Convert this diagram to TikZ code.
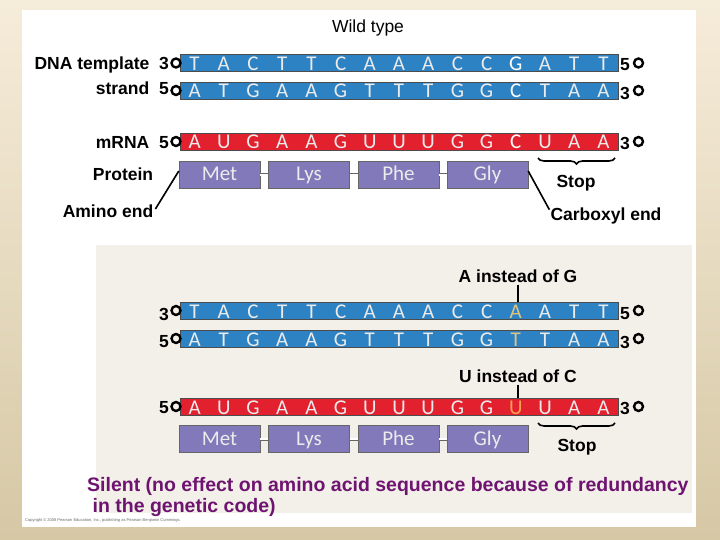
\documentclass[tikz,border=0pt]{standalone}
\usepackage{fontspec}
\setmainfont{Liberation Sans}
\newfontfamily\calfnt{Carlito}
\usetikzlibrary{decorations.pathreplacing}
\definecolor{dnab}{HTML}{2D82C4}
\definecolor{rnar}{HTML}{E3202E}
\definecolor{prot}{HTML}{8279BA}
\definecolor{pur}{HTML}{6E1470}
\definecolor{tanb}{HTML}{DEC482}
\definecolor{orgu}{HTML}{FAA050}
\definecolor{bgtop}{HTML}{F6ECDA}
\definecolor{bgbot}{HTML}{D6C8A5}
\definecolor{greyp}{HTML}{F3F0EA}
\tikzset{
 strand/.style={draw=black!70,line width=0.5pt,minimum width=438pt,minimum height=17pt,inner sep=0pt},
 base/.style={text=white!92!black,font=\calfnt\fontsize{21}{21}\selectfont,inner sep=0pt,anchor=base},
 lab/.style={font=\bfseries\fontsize{17.5}{19}\selectfont,inner sep=0pt},
 prime/.style={circle,draw=black,line width=2.4pt,minimum size=9pt,inner sep=0pt},
 aa/.style={fill=prot,draw=black!60,minimum width=81pt,minimum height=27pt,inner sep=0pt,text height=13pt,text depth=1pt,text=white!92!black,font=\calfnt\fontsize{21}{21}\selectfont},
 link/.style={double=white,draw=black!60,double distance=2pt,line width=0.5pt},
 lead/.style={line width=1.6pt},
 brc/.style={decorate,decoration={brace,amplitude=6pt,mirror},line width=1.6pt}
}
\newcommand{\seq}[5]{% name, y, color, letters, special-colour
 \node[strand,fill=#3,anchor=west] (#1) at (180,#2) {};
 \foreach \c [count=\i from 0] in {#4} {
   \pgfmathsetmacro\xx{180+29.2*(\i+0.5)}
   \ifnum\i=11 \node[base,text=#5] (#1l\i) at (\xx,#2+7.5) {\c};
   \else \node[base] (#1l\i) at (\xx,#2+7.5) {\c}; \fi
 }
}
\begin{document}
\begin{tikzpicture}[x=1pt,y=-1pt]
\shade[top color=bgtop,bottom color=bgbot] (0,0) rectangle (720,540);
\fill[white] (22,10) rectangle (696,527);
\fill[greyp] (96,245) rectangle (692,513);
\node[lab,font=\fontsize{17.5}{19}\selectfont] (wt) at (368,28) {Wild type};
% top
\seq{d1}{63}{dnab}{T,A,C,T,T,C,A,A,A,C,C,G,A,T,T}{white}
\seq{d2}{90.5}{dnab}{A,T,G,A,A,G,T,T,T,G,G,C,T,A,A}{white}
\seq{m1}{141.5}{rnar}{A,U,G,A,A,G,U,U,U,G,G,C,U,A,A}{white}
\node[prime] (p1) at ([xshift=-4pt]d1.west) {}; \node[lab,anchor=east] (t1) at (169,65) {DNA template\ \ 3};
\node[prime] (p2) at ([xshift=-4pt]d2.west) {}; \node[lab,anchor=east] (t2) at (169,88) {strand\ \ 5};
\node[prime] (p3) at ([xshift=-4pt]m1.west) {}; \node[lab,anchor=east] (t3) at (169,143) {mRNA\ \ 5};
\node[prime] (p4) at ([xshift=20pt]d1.east) {}; \node[lab,anchor=west] (t4) at (620,65) {5};
\node[prime] (p5) at ([xshift=20pt]d2.east) {}; \node[lab,anchor=west] (t5) at (620,93) {3};
\node[prime] (p6) at ([xshift=20pt]m1.east) {}; \node[lab,anchor=west] (t6) at (620,143) {3};
\node[aa] (met) at (219.5,175) {Met};
\node[aa] (lys) at (309,175) {Lys};
\node[aa] (phe) at (398.5,175) {Phe};
\node[aa] (gly) at (487.5,175) {Gly};
\draw[link] (met) -- (lys); \draw[link] (lys) -- (phe); \draw[link] (phe) -- (gly);
\node[lab] (prl) at (123,174) {Protein};
\node[lab] (am) at (108,211) {Amino end};
\node[lab] (cb) at (606,216) {Carboxyl end};
\node[lab] (st) at (576,183) {Stop};
\draw[lead] ([yshift=4pt]met.west) -- ([xshift=2pt,yshift=2pt]am.east);
\draw[lead] ([yshift=4pt]gly.east) -- ([xshift=-1pt,yshift=-2pt]cb.north west);
\coordinate (b1) at (538,158); \coordinate (b2) at (615,158);
\draw[brc] (b1) -- (b2);
% bottom
\seq{d3}{310.5}{dnab}{T,A,C,T,T,C,A,A,A,C,C,A,A,T,T}{tanb}
\seq{d4}{338.5}{dnab}{A,T,G,A,A,G,T,T,T,G,G,T,T,A,A}{tanb}
\seq{m2}{406.5}{rnar}{A,U,G,A,A,G,U,U,U,G,G,U,U,A,A}{orgu}
\node[prime] (q1) at ([xshift=-4pt]d3.west) {}; \node[lab,anchor=east] (s1) at (169,314) {3};
\node[prime] (q2) at ([xshift=-4pt]d4.west) {}; \node[lab,anchor=east] (s2) at (169,342) {5};
\node[prime] (q3) at ([xshift=-4pt]m2.west) {}; \node[lab,anchor=east] (s3) at (169,408) {5};
\node[prime] (q4) at ([xshift=20pt]d3.east) {}; \node[lab,anchor=west] (s4) at (620,314) {5};
\node[prime] (q5) at ([xshift=20pt]d4.east) {}; \node[lab,anchor=west] (s5) at (620,342) {3};
\node[prime] (q6) at ([xshift=20pt]m2.east) {}; \node[lab,anchor=west] (s6) at (620,408) {3};
\node[aa] (met2) at (219.5,439) {Met};
\node[aa] (lys2) at (309,439) {Lys};
\node[aa] (phe2) at (398.5,439) {Phe};
\node[aa] (gly2) at (487.5,439) {Gly};
\draw[link] (met2) -- (lys2); \draw[link] (lys2) -- (phe2); \draw[link] (phe2) -- (gly2);
\node[lab] (ag) at (518,276) {A instead of G};
\node[lab] (uc) at (518,376) {U instead of C};
\draw[lead] ([yshift=-2pt]ag.south) -- (d3.north -| ag.south);
\draw[lead] ([yshift=-2pt]uc.south) -- (m2.north -| uc.south);
\node[lab] (st2) at (577,447) {Stop};
\coordinate (b3) at (538,423); \coordinate (b4) at (615,423);
\draw[brc] (b3) -- (b4);
\node[anchor=west,text=pur,font=\bfseries\fontsize{19.5}{21}\selectfont,align=left,inner sep=0pt] (sil) at (87,497) {Silent (no effect on amino acid sequence because of redundancy\\\ in the genetic code)};
\node[anchor=west,font=\fontsize{4}{4}\selectfont,text=black!60,inner sep=0pt] (cp) at (25,520) {Copyright \textcopyright\ 2008 Pearson Education, Inc., publishing as Pearson Benjamin Cummings.};
\end{tikzpicture}
\end{document}
